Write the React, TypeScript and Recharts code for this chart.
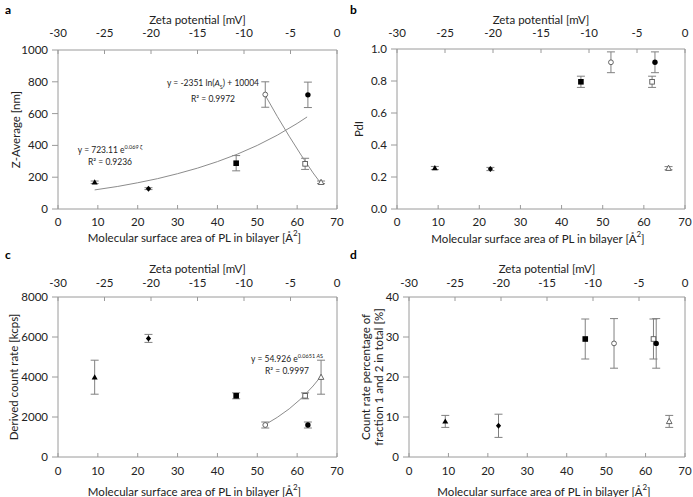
import React from "react";
import {
  ComposedChart,
  Scatter,
  XAxis,
  YAxis,
  ErrorBar,
  ReferenceLine,
} from "recharts";

// marker of each sample, in the same order as the value arrays below
const markers = ["tri", "dia", "sq", "oCircle", "oSquare", "fCircle", "oTri"];
const surfaceArea = [9.2, 22.7, 44.7, 52.0, 62.0, 62.7, 66.0];

const zAverage = [168, 128, 288, 720, 284, 718, 168];
const zAverageErr = [8, 6, 48, 80, 35, 80, 8];
const pdi = [0.256, 0.25, 0.795, 0.917, 0.795, 0.917, 0.255];
const pdiErr = [0.01, 0.01, 0.035, 0.065, 0.035, 0.065, 0.01];
const countRate = [3990, 5930, 3060, 1600, 3060, 1600, 3990];
const countRateErr = [850, 200, 150, 150, 150, 150, 850];
const fraction = [8.9, 7.8, 29.5, 28.4, 29.5, 28.4, 8.9];
const fractionErr = [1.5, 2.9, 5, 6.2, 5, 6.2, 1.5];

// fitted trend lines
const expFitAx = [9.2, 15, 20, 25, 30, 35, 40, 45, 50, 55, 60, 62.5];
const expFitAy = [120, 142, 165, 191, 222, 257, 298, 345, 400, 464, 538, 579];
const logFitAx = [52, 55, 58, 61, 64, 66];
const logFitAy = [715, 583, 458, 339, 227, 160];
const expFitCx = [52, 55, 58, 61, 64, 66];
const expFitCy = [1620, 1980, 2405, 2920, 3550, 4040];

const areaTicks = [0, 10, 20, 30, 40, 50, 60, 70];
const zetaTicks = [-30, -25, -20, -15, -10, -5, 0];

const FONT = "Lato, 'Noto Sans', sans-serif";
const AXIS = "#9a9a9a";
const INK = "#222";

function Marker({ cx, cy, kind }: { cx?: number; cy?: number; kind: string }) {
  if (cx == null || cy == null) return null;
  const open = { fill: "#fff", stroke: "#555", strokeWidth: 0.9 };
  const full = { fill: "#000" };
  switch (kind) {
    case "tri":
      return <polygon points={`${cx},${cy - 3} ${cx + 3},${cy + 2.2} ${cx - 3},${cy + 2.2}`} {...full} />;
    case "oTri":
      return <polygon points={`${cx},${cy - 3} ${cx + 2.8},${cy + 2.2} ${cx - 2.8},${cy + 2.2}`} {...open} />;
    case "dia":
      return <polygon points={`${cx},${cy - 3} ${cx + 2.6},${cy} ${cx},${cy + 3} ${cx - 2.6},${cy}`} {...full} />;
    case "sq":
      return <rect x={cx - 2.8} y={cy - 2.8} width={5.6} height={5.6} {...full} />;
    case "oSquare":
      return <rect x={cx - 2.3} y={cy - 2.3} width={4.6} height={4.6} {...open} />;
    case "oCircle":
      return <circle cx={cx} cy={cy} r={2.4} {...open} />;
    default:
      return <circle cx={cx} cy={cy} r={2.7} {...full} />;
  }
}

const noDot = () => <g />;

interface Fit {
  xs: number[];
  ys: number[];
}

interface PanelProps {
  letter: string;
  left: number;
  top: number;
  width: number;
  height: number;
  plot: { l: number; r: number; t: number; b: number };
  values: number[];
  errors: number[];
  yDomain: [number, number];
  yTicks: number[];
  yFormat?: (v: number) => string;
  yLabel: string[];
  yLabelX: number[];
  topTickY: number;
  topLabelY: number;
  botTickY: number;
  botLabelY: number;
  fits: Fit[];
  notes: React.ReactNode;
}

function values2points(values: number[], errors: number[]) {
  return values.map((y, i) => ({ x: surfaceArea[i], y, e: errors[i] }));
}

function Panel(p: PanelProps) {
  const points = values2points(p.values, p.errors);
  const fs = 11.5;
  const plotMidX = (p.plot.l + p.plot.r) / 2;
  const plotMidY = (p.plot.t + p.plot.b) / 2;
  const tickStyle = { fill: INK, fontSize: fs, fontFamily: FONT };
  return (
    <div style={{ position: "absolute", left: p.left, top: p.top, width: p.width, height: p.height }}>
      <div style={{ position: "absolute", left: 5, top: 2, fontFamily: FONT, fontWeight: 700, fontSize: 12, color: "#000" }}>
        {p.letter}
      </div>
      <ComposedChart
        width={p.width}
        height={p.height}
        margin={{ top: 0, right: p.width - p.plot.r, bottom: 0, left: 0 }}
      >
        <XAxis
          xAxisId="area"
          type="number"
          dataKey="x"
          orientation="bottom"
          domain={[0, 70]}
          ticks={areaTicks}
          allowDataOverflow
          height={p.height - p.plot.b}
          stroke={AXIS}
          tickSize={-4}
          tickMargin={p.botTickY - 0.36 * fs - p.plot.b + 4}
          tick={tickStyle}
        />
        <XAxis
          xAxisId="zeta"
          type="number"
          dataKey="x"
          orientation="top"
          domain={[-30, 0]}
          ticks={zetaTicks}
          allowDataOverflow
          height={p.plot.t}
          stroke={AXIS}
          tickSize={-4}
          tickMargin={p.plot.t + 4 - (p.topTickY + 0.36 * fs)}
          tick={tickStyle}
        />
        <YAxis
          type="number"
          dataKey="y"
          domain={p.yDomain}
          ticks={p.yTicks}
          allowDataOverflow
          width={p.plot.l}
          stroke={AXIS}
          tickSize={6}
          tickMargin={4}
          tickFormatter={p.yFormat}
          tick={tickStyle}
        />
        <ReferenceLine xAxisId="area" x={70} stroke={AXIS} />
        {/* empty series that carries the zeta potential axis */}
        <Scatter
          xAxisId="zeta"
          data={zetaTicks.map((x) => ({ x, y: p.yDomain[0] }))}
          shape={noDot}
          isAnimationActive={false}
        />
        {p.fits.map((f, i) => (
          <Scatter
            key={"fit" + i}
            xAxisId="area"
            data={f.xs.map((x, j) => ({ x, y: f.ys[j] }))}
            line={{ stroke: "#8c8c8c", strokeWidth: 1 }}
            lineType="joint"
            shape={noDot}
            isAnimationActive={false}
          />
        ))}
        {points.map((pt, i) => (
          <Scatter
            key={markers[i]}
            xAxisId="area"
            data={[pt]}
            shape={(s: any) => <Marker cx={s.cx} cy={s.cy} kind={markers[i]} />}
            isAnimationActive={false}
          >
            <ErrorBar dataKey="e" direction="y" width={4} stroke="#808080" strokeWidth={1} />
          </Scatter>
        ))}
        <text
          x={plotMidX}
          y={p.topLabelY}
          textAnchor="middle"
          dominantBaseline="central"
          fontFamily={FONT}
          fontSize={fs}
          fill={INK}
        >
          Zeta potential [mV]
        </text>
        <text
          x={plotMidX - 3}
          y={p.botLabelY}
          textAnchor="middle"
          dominantBaseline="central"
          fontFamily={FONT}
          fontSize={fs}
          fill={INK}
        >
          Molecular surface area of PL in bilayer [Å<tspan dy={-4} fontSize={8}>2</tspan><tspan dy={4}>]</tspan>
        </text>
        {p.yLabel.map((line, i) => (
          <text
            key={line}
            transform={`translate(${p.yLabelX[i]},${plotMidY}) rotate(-90)`}
            textAnchor="middle"
            dominantBaseline="central"
            fontFamily={FONT}
            fontSize={fs}
            fill={INK}
          >
            {line}
          </text>
        ))}
      </ComposedChart>
      {p.notes}
    </div>
  );
}

const noteStyle: React.CSSProperties = {
  position: "absolute",
  fontFamily: FONT,
  fontSize: 8.5,
  color: INK,
  textAlign: "center",
  lineHeight: "12px",
  whiteSpace: "nowrap",
};
const sup: React.CSSProperties = { fontSize: 5.5, verticalAlign: "4px" };

export default function App() {
  return (
    <div style={{ position: "absolute", left: 0, top: 0, width: 693, height: 497, background: "#fff", overflow: "hidden" }}>
      <Panel
        letter="a"
        left={0}
        top={0}
        width={345}
        height={245}
        plot={{ l: 58, r: 337, t: 50, b: 209 }}
        values={zAverage}
        errors={zAverageErr}
        yDomain={[0, 1000]}
        yTicks={[0, 200, 400, 600, 800, 1000]}
        yLabel={["Z-Average [nm]"]}
        yLabelX={[15]}
        topTickY={33}
        topLabelY={19}
        botTickY={222}
        botLabelY={237}
        fits={[
          { xs: expFitAx, ys: expFitAy },
          { xs: logFitAx, ys: logFitAy },
        ]}
        notes={
          <>
            <div style={{ ...noteStyle, left: 70, top: 141, width: 80 }}>
              y = 723.11 e<span style={sup}>0.069 ζ</span>
              <br />
              R² = 0.9236
            </div>
            <div style={{ ...noteStyle, left: 163, top: 77, width: 100 }}>
              y = -2351 ln(<i>A</i><sub style={{ fontSize: 5.5 }}>S</sub>) + 10004
              <br />
              R² = 0.9972
            </div>
          </>
        }
      />
      <Panel
        letter="b"
        left={345}
        top={0}
        width={348}
        height={245}
        plot={{ l: 52, r: 340, t: 49, b: 209 }}
        values={pdi}
        errors={pdiErr}
        yDomain={[0, 1]}
        yTicks={[0, 0.2, 0.4, 0.6, 0.8, 1]}
        yFormat={(v) => v.toFixed(1)}
        yLabel={["PdI"]}
        yLabelX={[13]}
        topTickY={33}
        topLabelY={19}
        botTickY={222}
        botLabelY={238}
        fits={[]}
        notes={null}
      />
      <Panel
        letter="c"
        left={0}
        top={245}
        width={345}
        height={252}
        plot={{ l: 58, r: 337, t: 52, b: 212 }}
        values={countRate}
        errors={countRateErr}
        yDomain={[0, 8000]}
        yTicks={[0, 2000, 4000, 6000, 8000]}
        yLabel={["Derived count rate [kcps]"]}
        yLabelX={[13]}
        topTickY={37.5}
        topLabelY={23}
        botTickY={226}
        botLabelY={246}
        fits={[{ xs: expFitCx, ys: expFitCy }]}
        notes={
          <div style={{ ...noteStyle, left: 245, top: 105, width: 84 }}>
            y = 54.926 e<span style={sup}>0.0651 <i>A</i>S</span>
            <br />
            R² = 0.9997
          </div>
        }
      />
      <Panel
        letter="d"
        left={345}
        top={245}
        width={348}
        height={252}
        plot={{ l: 64, r: 340, t: 52, b: 212 }}
        values={fraction}
        errors={fractionErr}
        yDomain={[0, 40]}
        yTicks={[0, 10, 20, 30, 40]}
        yLabel={["Count rate percentage of", "fraction 1 and 2 in total [%]"]}
        yLabelX={[20, 33]}
        topTickY={37.5}
        topLabelY={23}
        botTickY={226}
        botLabelY={246}
        fits={[]}
        notes={null}
      />
    </div>
  );
}
